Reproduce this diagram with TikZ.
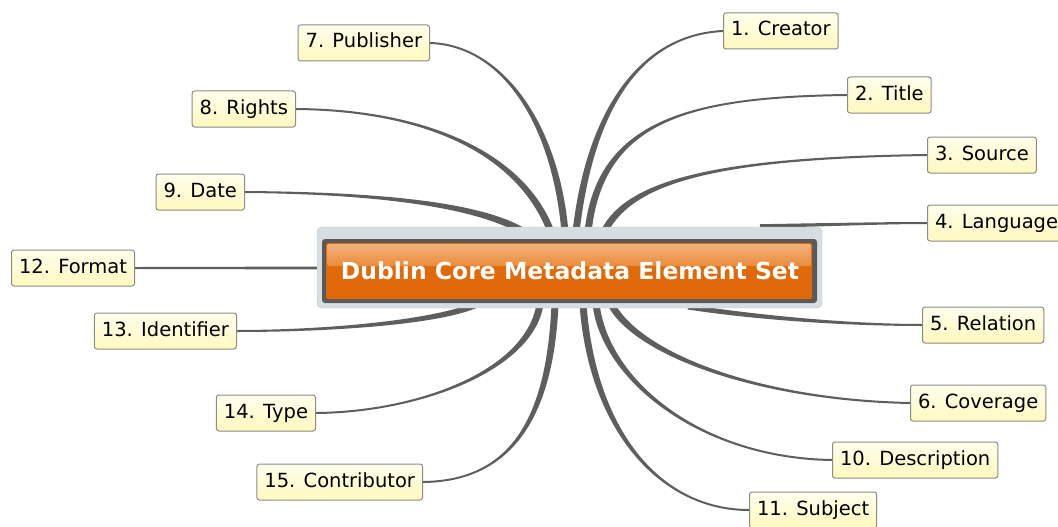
\documentclass[tikz,border=0pt]{standalone}
\usepackage{fontspec}
\setmainfont{DejaVu Sans}
\usetikzlibrary{calc,backgrounds}
\definecolor{brgray}{HTML}{5E5E5E}
\definecolor{leaftop}{HTML}{FFFFEC}
\definecolor{leafbot}{HTML}{FFF8BE}
\definecolor{leafedge}{HTML}{8C8C84}
\definecolor{hubouter}{HTML}{D7DEE1}
\definecolor{hubedge}{HTML}{B5C0C4}
\definecolor{hubdark}{HTML}{5A5A5A}
\definecolor{hubor}{HTML}{E06A0A}
\definecolor{orlight}{HTML}{F3B27C}
\definecolor{ormid}{HTML}{EA8B3A}
% #1 start, #2 control 1, #3 control 2, #4 end, #5 start half width, #6 end half width
\newcommand\dcbranch[6]{%
  \path ($(#1)!#5!90:#2$) coordinate (ba) ($(#1)!#5!-90:#2$) coordinate (bb)
        ($(#4)!#6!-90:#3$) coordinate (ea) ($(#4)!#6!90:#3$) coordinate (eb);
  \fill[branchfill] (ba) .. controls ($#2+(ba)-(#1)$) and ($#3+(ea)-(#4)$) .. (ea)
     -- (eb) .. controls ($#3+(eb)-(#4)$) and ($#2+(bb)-(#1)$) .. (bb) -- cycle;
}
\begin{document}
\begin{tikzpicture}[x=1pt,y=-1pt,
  leaf/.style={draw=leafedge, line width=1pt, rounded corners=2.5pt,
    top color=leaftop, bottom color=leafbot, minimum height=36pt,
    inner xsep=7.5pt, text height=14pt, text depth=4pt,
    font=\fontsize{19.5}{22}\selectfont, text=black},
  branchfill/.style={fill=brgray},
  hubtext/.style={font=\bfseries\fontsize{23.5}{26}\selectfont, text=white, inner sep=0pt}]
\useasboundingbox (0,0) rectangle (1058,527);
\clip (0,0) rectangle (1058,527);

% central topic
\filldraw[fill=hubouter, draw=hubedge, rounded corners=5pt] (317,227) rectangle (822,308);
\fill[hubdark, rounded corners=3pt] (322,239) rectangle (817,303);
\fill[hubor, rounded corners=1.5pt] (326,243) rectangle (812,299);
\shade[top color=orlight, bottom color=ormid, rounded corners=1.5pt] (327,244) rectangle (811,266);
\node[hubtext] (hub) at (570,271) {Dublin Core Metadata Element Set};

% leaves
\node[leaf, anchor=west] (n1) at (723,31) {1. Creator};
\node[leaf, anchor=west] (n2) at (847,95) {2. Title};
\node[leaf, anchor=west] (n3) at (927,155) {3. Source};
\node[leaf, anchor=west] (n4) at (927,223) {4. Language};
\node[leaf, anchor=west] (n5) at (922,325) {5. Relation};
\node[leaf, anchor=west] (n6) at (910,403) {6. Coverage};
\node[leaf, anchor=west] (n10) at (832,460) {10. Description};
\node[leaf, anchor=west] (n11) at (749,510) {11. Subject};
\node[leaf, anchor=east] (n7) at (430,43) {7. Publisher};
\node[leaf, anchor=east] (n8) at (296,109) {8. Rights};
\node[leaf, anchor=east] (n9) at (245,192) {9. Date};
\node[leaf, anchor=east] (n12) at (135,268) {12. Format};
\node[leaf, anchor=east] (n13) at (237,331) {13. Identifier};
\node[leaf, anchor=east] (n14) at (316,413) {14. Type};
\node[leaf, anchor=east] (n15) at (423,482) {15. Contributor};

% start points on the central topic
\coordinate (s1) at (576,232);
\coordinate (s2) at (588,232);
\coordinate (s3) at (604,232);
\coordinate (s4) at (760,226);
\coordinate (s5) at (688,307);
\coordinate (s6) at (611,304);
\coordinate (s10) at (596,304);
\coordinate (s11) at (583,304);
\coordinate (s7) at (565,232);
\coordinate (s8) at (551,232);
\coordinate (s9) at (524,232);
\coordinate (s12) at (322,268);
\coordinate (s13) at (478,304);
\coordinate (s14) at (540,304);
\coordinate (s15) at (555,304);

% branches, behind everything
\begin{pgfonlayer}{background}
\dcbranch{s1}{(590,110)}{(640,35)}{n1.west}{3.5pt}{1pt}
\dcbranch{s2}{(600,120)}{(690,97)}{n2.west}{3.5pt}{1pt}
\dcbranch{s3}{(630,180)}{(720,158)}{n3.west}{3.5pt}{1pt}
\dcbranch{s4}{(820,225)}{(880,223)}{n4.west}{1.8pt}{1pt}
\dcbranch{s5}{(760,318)}{(850,325)}{n5.west}{2.5pt}{1pt}
\dcbranch{s6}{(638,355)}{(760,400)}{n6.west}{3.5pt}{1pt}
\dcbranch{s10}{(605,380)}{(700,458)}{n10.west}{3.5pt}{1pt}
\dcbranch{s11}{(592,430)}{(660,510)}{n11.west}{3.5pt}{1pt}
\dcbranch{s7}{(555,120)}{(500,45)}{n7.east}{3.5pt}{1pt}
\dcbranch{s8}{(520,150)}{(420,110)}{n8.east}{3.5pt}{1pt}
\dcbranch{s9}{(480,205)}{(380,193)}{n9.east}{3.5pt}{1pt}
\dcbranch{s12}{(260,268)}{(200,268)}{n12.east}{1.4pt}{1pt}
\dcbranch{s13}{(440,322)}{(330,331)}{n13.east}{3pt}{1pt}
\dcbranch{s14}{(530,370)}{(420,412)}{n14.east}{3.5pt}{1pt}
\dcbranch{s15}{(550,420)}{(510,481)}{n15.east}{3.5pt}{1pt}
\end{pgfonlayer}
\end{tikzpicture}
\end{document}
